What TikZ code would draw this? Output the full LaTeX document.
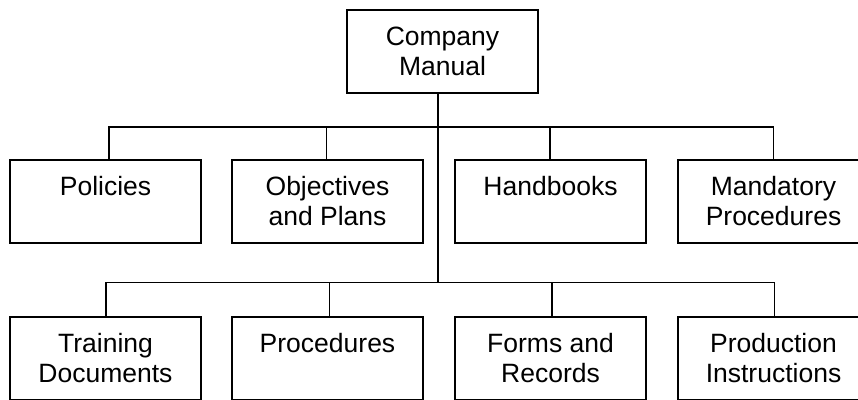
\documentclass[tikz,border=0pt]{standalone}
\usepackage{fontspec}
\setmainfont{Liberation Sans}
\newcommand{\boxtext}[1]{\parbox[t][83pt][t]{191pt}{\centering\fontsize{26.5}{30}\selectfont\rule{0pt}{35pt}#1}}
\tikzset{
  docbox/.style={draw=black, line width=1.7pt, inner sep=0pt, outer sep=0pt, anchor=north west, fill=white},
  link/.style={draw=black, line width=1.6pt}
}
\begin{document}
\begin{tikzpicture}[x=1pt,y=1pt]
\useasboundingbox (0,0) rectangle (858,-399);
\clip (0,0) rectangle (858,-399);
\fill[white] (0,0) rectangle (858,-399);
% top
\node[docbox] (top) at (347,-10) {\boxtext{Company\\Manual}};
% row 1
\node[docbox] (p1) at (10,-160) {\boxtext{Policies}};
\node[docbox] (p2) at (232,-160) {\boxtext{Objectives\\and Plans}};
\node[docbox] (p3) at (455,-160) {\boxtext{Handbooks}};
\node[docbox] (p4) at (678,-160) {\boxtext{Mandatory\\Procedures}};
% row 2
\node[docbox] (q1) at (10,-317) {\boxtext{Training\\Documents}};
\node[docbox] (q2) at (232,-317) {\boxtext{Procedures}};
\node[docbox] (q3) at (455,-317) {\boxtext{Forms and\\Records}};
\node[docbox] (q4) at (678,-317) {\boxtext{Production\\Instructions}};
% connectors
\coordinate (t) at ([xshift=-4.5pt]top.south);
\coordinate (bus1) at (0,-126.7);
\coordinate (bus2) at (0,-282.3);
\coordinate (d1) at ([xshift=3.5pt]p1.north);
\coordinate (d2) at ([xshift=-1pt]p2.north);
\coordinate (d3) at ([xshift=-0.5pt]p3.north);
\coordinate (d4) at (p4.north);
\coordinate (e1) at ([xshift=0.5pt]q1.north);
\coordinate (e2) at ([xshift=2pt]q2.north);
\coordinate (e3) at ([xshift=1.5pt]q3.north);
\coordinate (e4) at ([xshift=1pt]q4.north);
\draw[link] (t) -- (t |- bus2);
\draw[link] (d1) |- (bus1 -| d4) -- (d4);
\draw[link] (d2) -- (d2 |- bus1);
\draw[link] (d3) -- (d3 |- bus1);
\draw[link] (e1) |- (bus2 -| e4) -- (e4);
\draw[link] (e2) -- (e2 |- bus2);
\draw[link] (e3) -- (e3 |- bus2);
\end{tikzpicture}
\end{document}
